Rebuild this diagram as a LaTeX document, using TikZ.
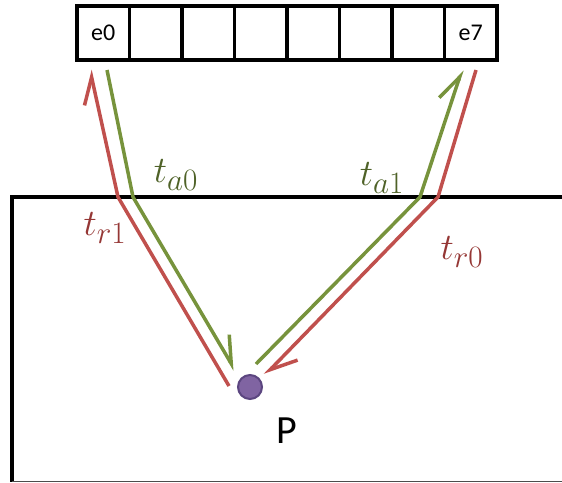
\documentclass[tikz,border=0pt]{standalone}
\usepackage{fontspec}
\setmainfont{Carlito}
\usetikzlibrary{arrows.meta,calc,positioning}
\definecolor{rayred}{HTML}{C0504D}
\definecolor{raygreen}{HTML}{77933C}
\definecolor{txtred}{HTML}{953735}
\definecolor{txtgreen}{HTML}{4F6228}
\definecolor{dotfill}{HTML}{8064A2}
\definecolor{dotline}{HTML}{5C4680}
\newcommand{\tlab}[1]{\scalebox{1.5}{$#1$}}
\tikzset{
 cell/.style={draw,line width=3.5pt,minimum width=52.5pt,minimum height=54pt,inner sep=0pt,outer sep=0pt},
 elab/.style={font=\fontsize{24}{26}\selectfont},
 ray/.style={line width=3.5pt,-{Straight Barb[left,length=26pt,width=26pt]}},
 tlabel/.style={font=\fontsize{24.88}{28}\selectfont,inner sep=0pt}
}
\begin{document}
\begin{tikzpicture}[x=1pt,y=-1pt]
 \useasboundingbox(0,0)rectangle(562,482);
 % element array
 \foreach \i in {0,...,7}{
  \node[cell]at(103.25+52.5*\i,33)(c\i){};}
 \node[elab]at(c0){e0};
 \node[elab]at(c7){e7};
 % medium
 \draw[line width=3.5pt](562,197)--(12,197)--(12,482);
 \draw[line width=1pt,black!70](12,481)--(562,481);
 % point
 \node[circle,fill=dotfill,draw=dotline,line width=2pt,minimum size=24pt,inner sep=0pt](P)at(250,387){};
 \node[font=\fontsize{40}{42}\selectfont]at(287,431){P};
 % ray points
 \coordinate(r1s)at(229,386);\coordinate(r1k)at(118,197);\coordinate(r1e)at(90,70);
 \coordinate(a0s)at(107,70);\coordinate(a0k)at(133,197);\coordinate(a0e)at(235,370);
 \coordinate(a1s)at(256,364);\coordinate(a1k)at(420,197);\coordinate(a1e)at(462,70);
 \coordinate(r0s)at(476,70);\coordinate(r0k)at(438,197);\coordinate(r0e)at(265,375);
 \draw[ray,rayred](r1s)--(r1k)--(r1e);
 \draw[ray,raygreen](a0s)--(a0k)--(a0e);
 \draw[ray,raygreen](a1s)--(a1k)--(a1e);
 \draw[ray,rayred](r0s)--(r0k)--(r0e);
 % labels
 \node[tlabel,text=txtgreen]at(176,175){\tlab{t_{a0}}};
 \node[tlabel,text=txtred]at(105,228){\tlab{t_{r1}}};
 \node[tlabel,text=txtgreen]at(382,178){\tlab{t_{a1}}};
 \node[tlabel,text=txtred]at(462,252){\tlab{t_{r0}}};
\end{tikzpicture}
\end{document}
